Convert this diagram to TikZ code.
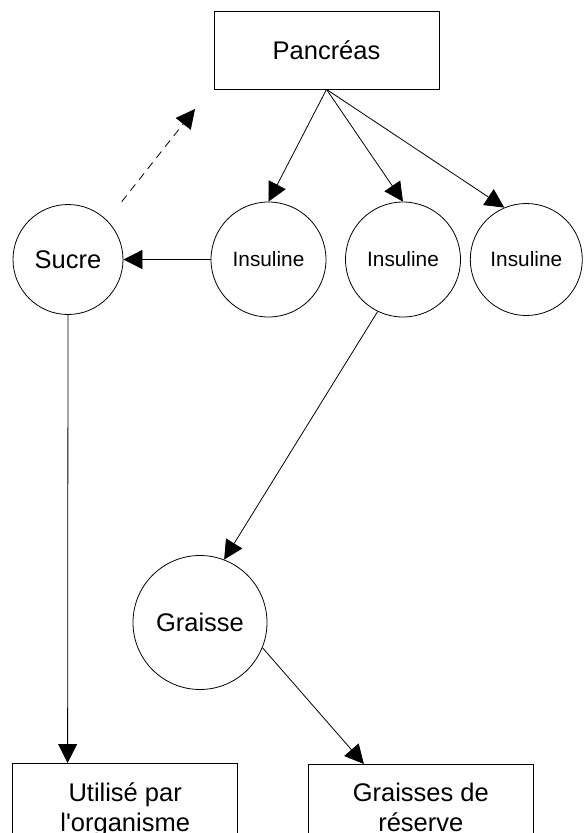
\documentclass[tikz,border=0pt]{standalone}
\usepackage{fontspec}
\setmainfont{Liberation Sans}
\usetikzlibrary{arrows.meta}
\begin{document}
\begin{tikzpicture}[x=1pt,y=-1pt,
  every node/.style={inner sep=0pt},
  big/.style={font=\fontsize{25.5}{30}\selectfont},
  small/.style={font=\fontsize{20.8}{25}\selectfont},
  bx/.style={draw, line width=0.8pt, minimum width=225pt},
  circ/.style={draw, circle, line width=0.8pt},
  arr/.style={line width=0.8pt, -{Triangle[length=19pt,width=19pt]}},
]
\useasboundingbox (0,0) rectangle (587,833);
\clip (0,0) rectangle (587,833);
\node[bx, big, minimum height=78pt] (pan) at (326.5,50) {Pancréas};
\node[circ, big, minimum size=110pt] (su) at (68,259.5) {Sucre};
\node[circ, small, minimum size=115pt] (i1) at (268.5,259.5) {Insuline};
\node[circ, small, minimum size=115pt] (i2) at (403,259.5) {Insuline};
\node[circ, small, minimum size=112pt] (i3) at (526.3,259.5) {Insuline};
\node[circ, big, minimum size=134pt] (gr) at (200,622.5) {Graisse};
\node[bx, big, align=center, anchor=north, inner ysep=19pt] (ut) at (125.2,763) {Utilisé par\\l\textquotesingle organisme};
\node[bx, big, align=center, anchor=north, inner ysep=19pt] (re) at (420.8,764) {Graisses de\\réserve};
\coordinate (d1) at (121.7,201.7);
\coordinate (d2) at (195,109);
\draw[arr] (pan.south) -- (i1.north);
\draw[arr] (pan.south) -- (i2.north);
\draw[arr] (pan.south) -- (i3.113);
\draw[arr] (i1.west) -- (su.east);
\draw[arr, dash pattern=on 8pt off 6pt] (d1) -- (d2);
\draw[arr] (i2.244.7) -- (gr.69);
\draw[arr] (su.south) -- ([xshift=55.3pt]ut.north west);
\draw[arr] (gr.-22.7) -- ([xshift=56pt]re.north west);
\end{tikzpicture}
\end{document}
